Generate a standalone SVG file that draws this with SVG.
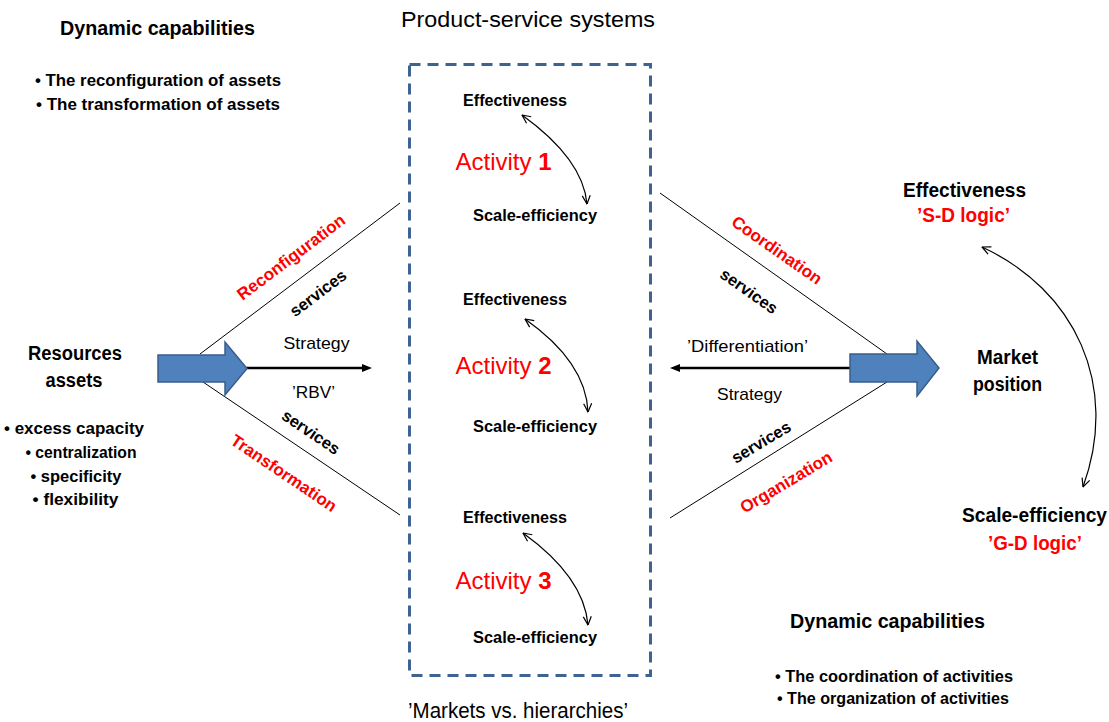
<svg xmlns="http://www.w3.org/2000/svg" width="1109" height="722" viewBox="0 0 1109 722">
<defs>
<style>
text{font-family:"Liberation Sans",Arial,sans-serif;fill:#000}
.b{font-weight:bold}
.h{font-size:19.5px;font-weight:bold}
.bl{font-size:16.5px;font-weight:bold}
.ac{font-size:16px;font-weight:bold}
.n{font-size:17px}
.t{font-size:22.5px}
.rl{font-size:17px;font-weight:bold;fill:#ff0000}
.sv{font-size:16.5px;font-weight:bold}
.red{fill:#ff0000}
.act{font-size:24px;fill:#ff0000}
.thin{stroke:#000;stroke-width:1;fill:none}
.curve{stroke:#000;stroke-width:1.2;fill:none;marker-start:url(#open);marker-end:url(#open)}
.strat{stroke:#000;stroke-width:2.5;fill:none;marker-end:url(#solid)}
.big{fill:#4f81bd;stroke:#385d8a;stroke-width:1.5}
</style>
<marker id="open" viewBox="0 0 10 10" refX="9.5" refY="5" markerWidth="10" markerHeight="10" markerUnits="userSpaceOnUse" orient="auto-start-reverse">
<path d="M1,1 L9.5,5 L1,9" fill="none" stroke="#000" stroke-width="1.2"/>
</marker>
<marker id="solid" viewBox="0 0 10 10" refX="3" refY="5" markerWidth="10" markerHeight="10" markerUnits="userSpaceOnUse" orient="auto">
<path d="M0,1 L10,5 L0,9 z" fill="#000"/>
</marker>
</defs>
<rect width="1109" height="722" fill="#fff"/>

<g id="connectors">
<line class="thin" x1="200" y1="354" x2="400" y2="203"/>
<line class="thin" x1="203" y1="382" x2="400" y2="515"/>
<line class="thin" x1="660" y1="193" x2="887" y2="354"/>
<line class="thin" x1="670" y1="518" x2="887" y2="382"/>
<path class="strat" d="M246,368 L365,368"/>
<path class="strat" d="M852,368 L677,368"/>
<path class="curve" d="M522,115 Q583,159 587,204"/>
<path class="curve" d="M525,319 Q586,362 588,412"/>
<path class="curve" d="M523,533 Q584,577 588,625"/>
<path class="curve" d="M982,247 C1075,290 1120,385 1083,487"/>
</g>

<g id="left-arrow">
<path class="big" d="M158,355 L225,355 L225,342 L247,368.5 L225,395 L225,382 L158,382 Z"/>
</g>
<g id="right-arrow">
<path class="big" d="M850,354 L917,354 L917,341 L939,368 L917,396 L917,382 L850,382 Z"/>
</g>

<g id="pss-box">
<rect x="409.5" y="64.5" width="241" height="611" fill="none" stroke="#3e6391" stroke-width="3" stroke-dasharray="11,7"/>
<text class="t" x="528" y="27" text-anchor="middle" textLength="254" lengthAdjust="spacingAndGlyphs">Product-service systems</text>
<text class="t" x="518" y="718" text-anchor="middle" textLength="220" lengthAdjust="spacingAndGlyphs">’Markets vs. hierarchies’</text>
</g>

<g id="activity1">
<text class="ac" x="515" y="106" text-anchor="middle" textLength="104" lengthAdjust="spacingAndGlyphs">Effectiveness</text>
<text class="act" x="503.5" y="170" text-anchor="middle">Activity <tspan class="b">1</tspan></text>
<text class="ac" x="535" y="221" text-anchor="middle" textLength="124" lengthAdjust="spacingAndGlyphs">Scale-efficiency</text>
</g>
<g id="activity2">
<text class="ac" x="515" y="305" text-anchor="middle" textLength="104" lengthAdjust="spacingAndGlyphs">Effectiveness</text>
<text class="act" x="503.5" y="374" text-anchor="middle">Activity <tspan class="b">2</tspan></text>
<text class="ac" x="535" y="432" text-anchor="middle" textLength="124" lengthAdjust="spacingAndGlyphs">Scale-efficiency</text>
</g>
<g id="activity3">
<text class="ac" x="515" y="523" text-anchor="middle" textLength="104" lengthAdjust="spacingAndGlyphs">Effectiveness</text>
<text class="act" x="503.5" y="589" text-anchor="middle">Activity <tspan class="b">3</tspan></text>
<text class="ac" x="535" y="643" text-anchor="middle" textLength="124" lengthAdjust="spacingAndGlyphs">Scale-efficiency</text>
</g>

<g id="dc-top">
<text class="h" x="157.5" y="34.5" text-anchor="middle" textLength="195" lengthAdjust="spacingAndGlyphs">Dynamic capabilities</text>
<text class="bl" x="158" y="86" text-anchor="middle" textLength="246" lengthAdjust="spacingAndGlyphs">• The reconfiguration of assets</text>
<text class="bl" x="158" y="109.5" text-anchor="middle" textLength="244" lengthAdjust="spacingAndGlyphs">• The transformation of assets</text>
</g>

<g id="resources">
<text class="h" x="75" y="360" text-anchor="middle" textLength="94" lengthAdjust="spacingAndGlyphs">Resources</text>
<text class="h" x="74" y="387" text-anchor="middle" textLength="57" lengthAdjust="spacingAndGlyphs">assets</text>
<text class="bl" x="74" y="434" text-anchor="middle" textLength="140" lengthAdjust="spacingAndGlyphs">• excess capacity</text>
<text class="bl" x="81" y="458" text-anchor="middle" textLength="111" lengthAdjust="spacingAndGlyphs">• centralization</text>
<text class="bl" x="76" y="481.5" text-anchor="middle" textLength="91" lengthAdjust="spacingAndGlyphs">• specificity</text>
<text class="bl" x="75.5" y="505" text-anchor="middle" textLength="86" lengthAdjust="spacingAndGlyphs">• flexibility</text>
</g>

<g id="left-labels">
<text class="rl" text-anchor="middle" transform="translate(291,257) rotate(-37)" dy="0.35em">Reconfiguration</text>
<text class="sv" text-anchor="middle" transform="translate(318,293) rotate(-37)" dy="0.35em">services</text>
<text class="n" x="316.5" y="349" text-anchor="middle" textLength="66" lengthAdjust="spacingAndGlyphs">Strategy</text>
<text class="n" x="313.5" y="398" text-anchor="middle" textLength="43" lengthAdjust="spacingAndGlyphs">’RBV’</text>
<text class="sv" text-anchor="middle" transform="translate(311,432) rotate(34)" dy="0.35em">services</text>
<text class="rl" text-anchor="middle" transform="translate(284,473) rotate(34)" dy="0.35em">Transformation</text>
</g>

<g id="right-labels">
<text class="rl" text-anchor="middle" transform="translate(777,250) rotate(35)" dy="0.35em">Coordination</text>
<text class="sv" text-anchor="middle" transform="translate(749,291) rotate(35)" dy="0.35em">services</text>
<text class="n" x="747.5" y="352" text-anchor="middle" textLength="121" lengthAdjust="spacingAndGlyphs">’Differentiation’</text>
<text class="n" x="749.5" y="400" text-anchor="middle" textLength="65" lengthAdjust="spacingAndGlyphs">Strategy</text>
<text class="sv" text-anchor="middle" transform="translate(761,442) rotate(-31)" dy="0.35em">services</text>
<text class="rl" text-anchor="middle" transform="translate(786,482) rotate(-31)" dy="0.35em">Organization</text>
</g>

<g id="market">
<text class="h" x="1007.5" y="364" text-anchor="middle" textLength="61" lengthAdjust="spacingAndGlyphs">Market</text>
<text class="h" x="1007.5" y="391" text-anchor="middle" textLength="69" lengthAdjust="spacingAndGlyphs">position</text>
</g>
<g id="sd-logic">
<text class="h" x="964.5" y="197" text-anchor="middle" textLength="123" lengthAdjust="spacingAndGlyphs">Effectiveness</text>
<text class="h red" x="963.5" y="222" text-anchor="middle" textLength="93" lengthAdjust="spacingAndGlyphs">’S-D logic’</text>
</g>
<g id="gd-logic">
<text class="h" x="1034.5" y="522" text-anchor="middle" textLength="145" lengthAdjust="spacingAndGlyphs">Scale-efficiency</text>
<text class="h red" x="1035" y="550" text-anchor="middle" textLength="94" lengthAdjust="spacingAndGlyphs">’G-D logic’</text>
</g>

<g id="dc-bottom">
<text class="h" x="887.5" y="628" text-anchor="middle" textLength="195" lengthAdjust="spacingAndGlyphs">Dynamic capabilities</text>
<text class="bl" x="894" y="681.5" text-anchor="middle" textLength="238" lengthAdjust="spacingAndGlyphs">• The coordination of activities</text>
<text class="bl" x="893" y="703.5" text-anchor="middle" textLength="232" lengthAdjust="spacingAndGlyphs">• The organization of activities</text>
</g>
</svg>
